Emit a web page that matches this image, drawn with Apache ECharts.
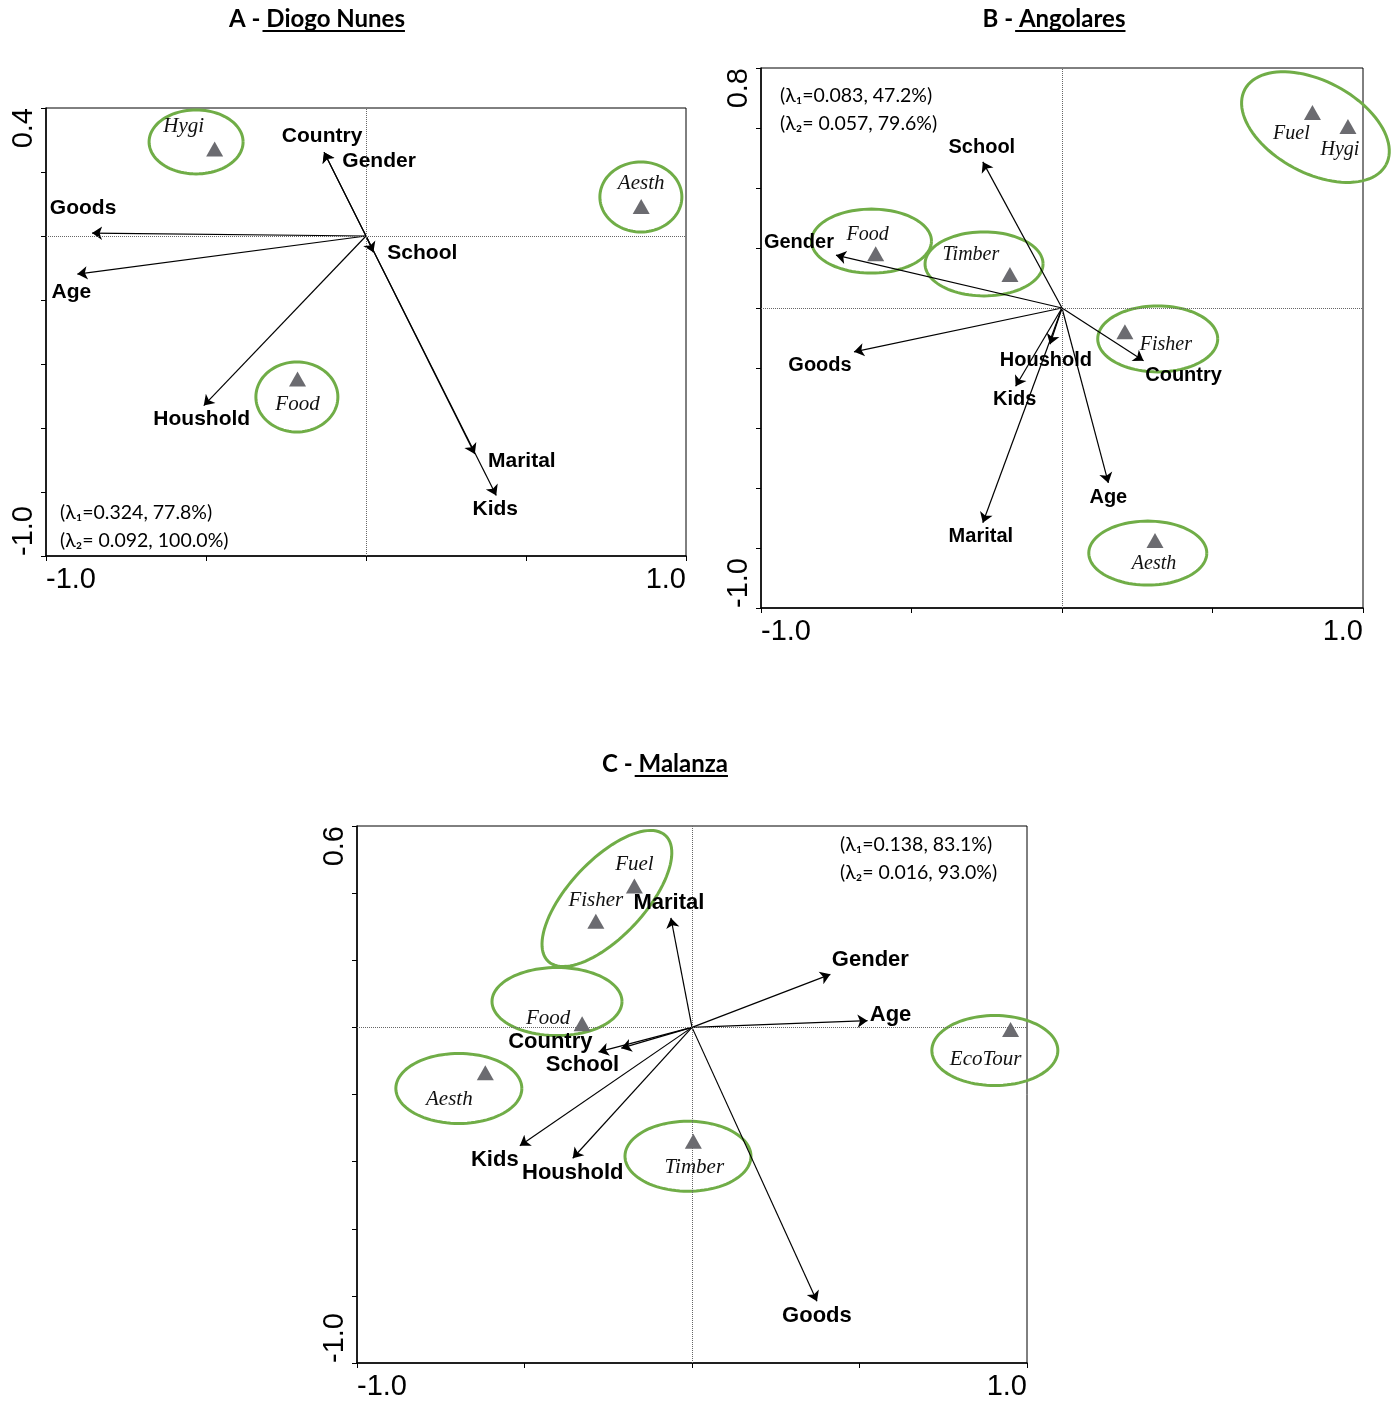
<!DOCTYPE html>
<html><head><meta charset="utf-8">
<script src="https://cdn.jsdelivr.net/npm/echarts@6/dist/echarts.min.js"></script>
<style>html,body{margin:0;padding:0;background:#fff}#c{width:1399px;height:1402px}</style>
</head><body><div id="c"></div>
<script>
// ---------- DATA ----------
// Panel A - Diogo Nunes
const aVarNames = ['Goods','Age','Country','Gender','School','Marital','Kids','Houshold'];
const aVarX = [-0.856,-0.902,-0.131,-0.131,0.023,0.340,0.407,-0.507];
const aVarY = [0.009,-0.119,0.262,0.262,-0.051,-0.681,-0.811,-0.530];
const aSpNames = ['Hygi','Aesth','Food'];
const aSpX = [-0.473,0.860,-0.214];
const aSpY = [0.272,0.092,-0.447];
const aLambda = ['(λ\u2081=0.324, 77.8%)','(λ\u2082= 0.092, 100.0%)'];
const aYTicks = [-1.0, 0.4];

// Panel B - Angolares
const bVarNames = ['School','Gender','Goods','Houshold','Kids','Marital','Age','Country'];
const bVarX = [-0.263,-0.751,-0.691,-0.040,-0.154,-0.263,0.154,0.271];
const bVarY = [0.487,0.176,-0.146,-0.121,-0.261,-0.716,-0.583,-0.176];
const bSpNames = ['Food','Timber','Fuel','Hygi','Fisher','Aesth'];
const bSpX = [-0.619,-0.173,0.832,0.950,0.209,0.309];
const bSpY = [0.181,0.112,0.652,0.605,-0.079,-0.775];
const bLambda = ['(λ\u2081=0.083, 47.2%)','(λ\u2082= 0.057, 79.6%)'];
const bYTicks = [-1.0, 0.8];

// Panel C - Malanza
const cVarNames = ['Marital','Gender','Age','Country','School','Kids','Houshold','Goods'];
const cVarX = [-0.063,0.413,0.524,-0.211,-0.279,-0.514,-0.356,0.373];
const cVarY = [0.326,0.158,0.020,-0.062,-0.073,-0.353,-0.390,-0.816];
const cSpNames = ['Fuel','Fisher','Food','Aesth','Timber','EcoTour'];
const cSpX = [-0.172,-0.287,-0.328,-0.617,0.004,0.951];
const cSpY = [0.421,0.316,0.011,-0.135,-0.339,-0.006];
const cLambda = ['(λ\u2081=0.138, 83.1%)','(λ\u2082= 0.016, 93.0%)'];
const cYTicks = [-1.0, 0.6];

const xTicks = [-1.0, 1.0];
const titles = [['A -',' Diogo Nunes'],['B -',' Angolares'],['C -',' Malanza']];

// ---------- LAYOUT / STYLE ----------
const panels = [
  { grid:{left:46, top:108, width:640, height:448}, yT:aYTicks,
    vn:aVarNames, vx:aVarX, vy:aVarY, sn:aSpNames, sx:aSpX, sy:aSpY, lam:aLambda,
    varFont:21, spFont:21,
    varOff:{Goods:[-9,-25],Age:[-6,18],Country:[-2,-16],Gender:[55,9],School:[49,1],Marital:[47,7],Kids:[-1,14],Houshold:[-2,14]},
    spOff:{Hygi:[-31,-22],Aesth:[0,-23],Food:[0,25]},
    ell:[[-0.531,0.294,47,32,0],[0.859,0.122,41,35,0],[-0.216,-0.503,41,35,0]],
    lamPos:[60,513], title:[317,19] },
  { grid:{left:761, top:68, width:602, height:540}, yT:bYTicks,
    vn:bVarNames, vx:bVarX, vy:bVarY, sn:bSpNames, sx:bSpX, sy:bSpY, lam:bLambda,
    varFont:20, spFont:20,
    varOff:{School:[-1,-14],Gender:[-37,-13],Goods:[-34,14],Houshold:[-4,16],Kids:[-1,13],Marital:[-2,14],Age:[0,15],Country:[40,15]},
    spOff:{Food:[-8,-19],Timber:[-39,-20],Fuel:[-21,21],Hygi:[-8,23],Fisher:[41,13],Aesth:[-1,23]},
    ell:[[-0.633,0.223,60,32,0],[-0.259,0.147,59,32,0],[0.842,0.603,80,46,28],[0.318,-0.103,60,33,0],[0.285,-0.817,59,32,0]],
    lamPos:[780,96], title:[1054,19] },
  { grid:{left:357, top:826, width:670, height:537}, yT:cYTicks,
    vn:cVarNames, vx:cVarX, vy:cVarY, sn:cSpNames, sx:cSpX, sy:cSpY, lam:cLambda,
    varFont:22, spFont:21,
    varOff:{Marital:[-2,-15],Gender:[40,-14],Age:[23,-6],Country:[-71,-6],School:[-16,13],Kids:[-25,14],Houshold:[0,15],Goods:[0,15]},
    spOff:{Fuel:[0,-22],Fisher:[0,-21],Food:[-34,-5],Aesth:[-36,27],Timber:[1,26],EcoTour:[-25,30]},
    ell:[[-0.254,0.384,86,38,-47],[-0.403,0.077,65,34,0],[-0.696,-0.182,63,35,0],[-0.012,-0.384,63,35,0],[0.904,-0.069,63,35,0]],
    lamPos:[840,845], title:[665,764] }
];

const AXFONT = 'Liberation Sans';
const grids=[], xAxes=[], yAxes=[], series=[], graphics=[];

function onlyEnds(ends){
  return v => (Math.abs(v-ends[0])<1e-6 || Math.abs(v-ends[1])<1e-6) ? v.toFixed(1) : '';
}
function measure(txt, font){
  const ctx=document.createElement('canvas').getContext('2d'); ctx.font=font; return ctx.measureText(txt).width;
}

panels.forEach((p,i)=>{
  grids.push(Object.assign({show:true, borderColor:'#000', borderWidth:1, backgroundColor:'transparent'}, p.grid));
  xAxes.push({type:'value', gridIndex:i, min:xTicks[0], max:xTicks[1], interval:0.5,
    axisLine:{onZero:false, lineStyle:{color:'#000', width:1.5}},
    axisTick:{show:true, length:5, lineStyle:{color:'#000'}},
    splitLine:{show:false},
    axisLabel:{formatter:onlyEnds(xTicks), showMinLabel:true, showMaxLabel:true, color:'#000',
      fontFamily:AXFONT, fontSize:29, margin:9, alignMinLabel:'left', alignMaxLabel:'right'}});
  yAxes.push({type:'value', gridIndex:i, min:p.yT[0], max:p.yT[1], interval:0.2,
    axisLine:{onZero:false, lineStyle:{color:'#000', width:1.5}},
    axisTick:{show:true, length:5, lineStyle:{color:'#000'}},
    splitLine:{show:false},
    axisLabel:{formatter:onlyEnds(p.yT), showMinLabel:true, showMaxLabel:true, color:'#000', rotate:90,
      fontFamily:AXFONT, fontSize:29, margin:8, alignMinLabel:'left', alignMaxLabel:'right'}});

  // ellipses (annotation rings)
  series.push({type:'custom', xAxisIndex:i, yAxisIndex:i, clip:false, silent:true, z:3,
    data:p.ell,
    renderItem:(params, api)=>{
      const c=api.coord([api.value(0),api.value(1)]);
      const a=api.value(2), b=api.value(3), th=api.value(4)*Math.PI/180;
      const pts=[];
      for(let k=0;k<=96;k++){
        const t=k/96*2*Math.PI, x=a*Math.cos(t), y=b*Math.sin(t);
        pts.push([c[0]+x*Math.cos(th)-y*Math.sin(th), c[1]+x*Math.sin(th)+y*Math.cos(th)]);
      }
      return {type:'polyline', shape:{points:pts}, style:{stroke:'#70ad47', lineWidth:3, fill:null}};
    }});

  // arrows
  series.push({type:'lines', coordinateSystem:'cartesian2d', xAxisIndex:i, yAxisIndex:i, z:4,
    symbol:['none','arrow'], symbolSize:[0,10], silent:true,
    lineStyle:{color:'#000', width:1.2, opacity:1},
    data:p.vn.map((n,k)=>({name:n, coords:[[0,0],[p.vx[k],p.vy[k]]]}))});

  // arrow labels
  series.push({type:'scatter', xAxisIndex:i, yAxisIndex:i, z:6, symbol:'circle', symbolSize:0, silent:true,
    itemStyle:{color:'#000', opacity:1},
    label:{show:true, formatter:'{b}', position:'inside', align:'center', verticalAlign:'middle',
      color:'#000', opacity:1, textBorderWidth:0, textBorderColor:'transparent',
      fontFamily:AXFONT, fontWeight:'bold', fontSize:p.varFont},
    data:p.vn.map((n,k)=>({name:n, value:[p.vx[k],p.vy[k]], label:{offset:p.varOff[n]}}))});

  // species triangles and labels, plus zero reference lines
  series.push({type:'scatter', xAxisIndex:i, yAxisIndex:i, z:5, symbol:'triangle', symbolSize:[17,15], silent:true,
    itemStyle:{color:'#6b6b70', opacity:1},
    label:{show:true, formatter:'{b}', position:'inside', align:'center', verticalAlign:'middle',
      color:'#111', opacity:1, textBorderWidth:0, textBorderColor:'transparent',
      fontFamily:'Liberation Serif', fontStyle:'italic', fontSize:p.spFont},
    data:p.sn.map((n,k)=>({name:n, value:[p.sx[k],p.sy[k]], label:{offset:p.spOff[n]}})),
    markLine:{silent:true, symbol:'none', animation:false, label:{show:false},
      lineStyle:{type:'dotted', color:'#666', width:1},
      data:[{xAxis:0},{yAxis:0}]}});

  // eigenvalue texts
  p.lam.forEach((t,k)=>{
    graphics.push({type:'text', x:p.lamPos[0], y:p.lamPos[1]+k*28, z:10,
      style:{text:t, fill:'#000', font:'19.5px Lato', verticalAlign:'middle', textVerticalAlign:'middle'}});
  });

  // titles
  const font='bold 24px Lato';
  const w1=measure(titles[i][0], font), w2=measure(titles[i][1], font);
  const left=p.title[0]-(w1+w2)/2;
  graphics.push({type:'text', x:left, y:p.title[1], z:10,
    style:{text:titles[i][0]+titles[i][1], fill:'#000', font:font, verticalAlign:'middle', textVerticalAlign:'middle'}});
  graphics.push({type:'line', z:10, shape:{x1:left+w1+2, y1:p.title[1]+12, x2:left+w1+w2, y2:p.title[1]+12},
    style:{stroke:'#000', lineWidth:2}});
});

const chart=echarts.init(document.getElementById('c'));
chart.setOption({animation:false, backgroundColor:'#fff', grid:grids, xAxis:xAxes, yAxis:yAxes, series:series, graphic:graphics});
</script>
</body></html>
